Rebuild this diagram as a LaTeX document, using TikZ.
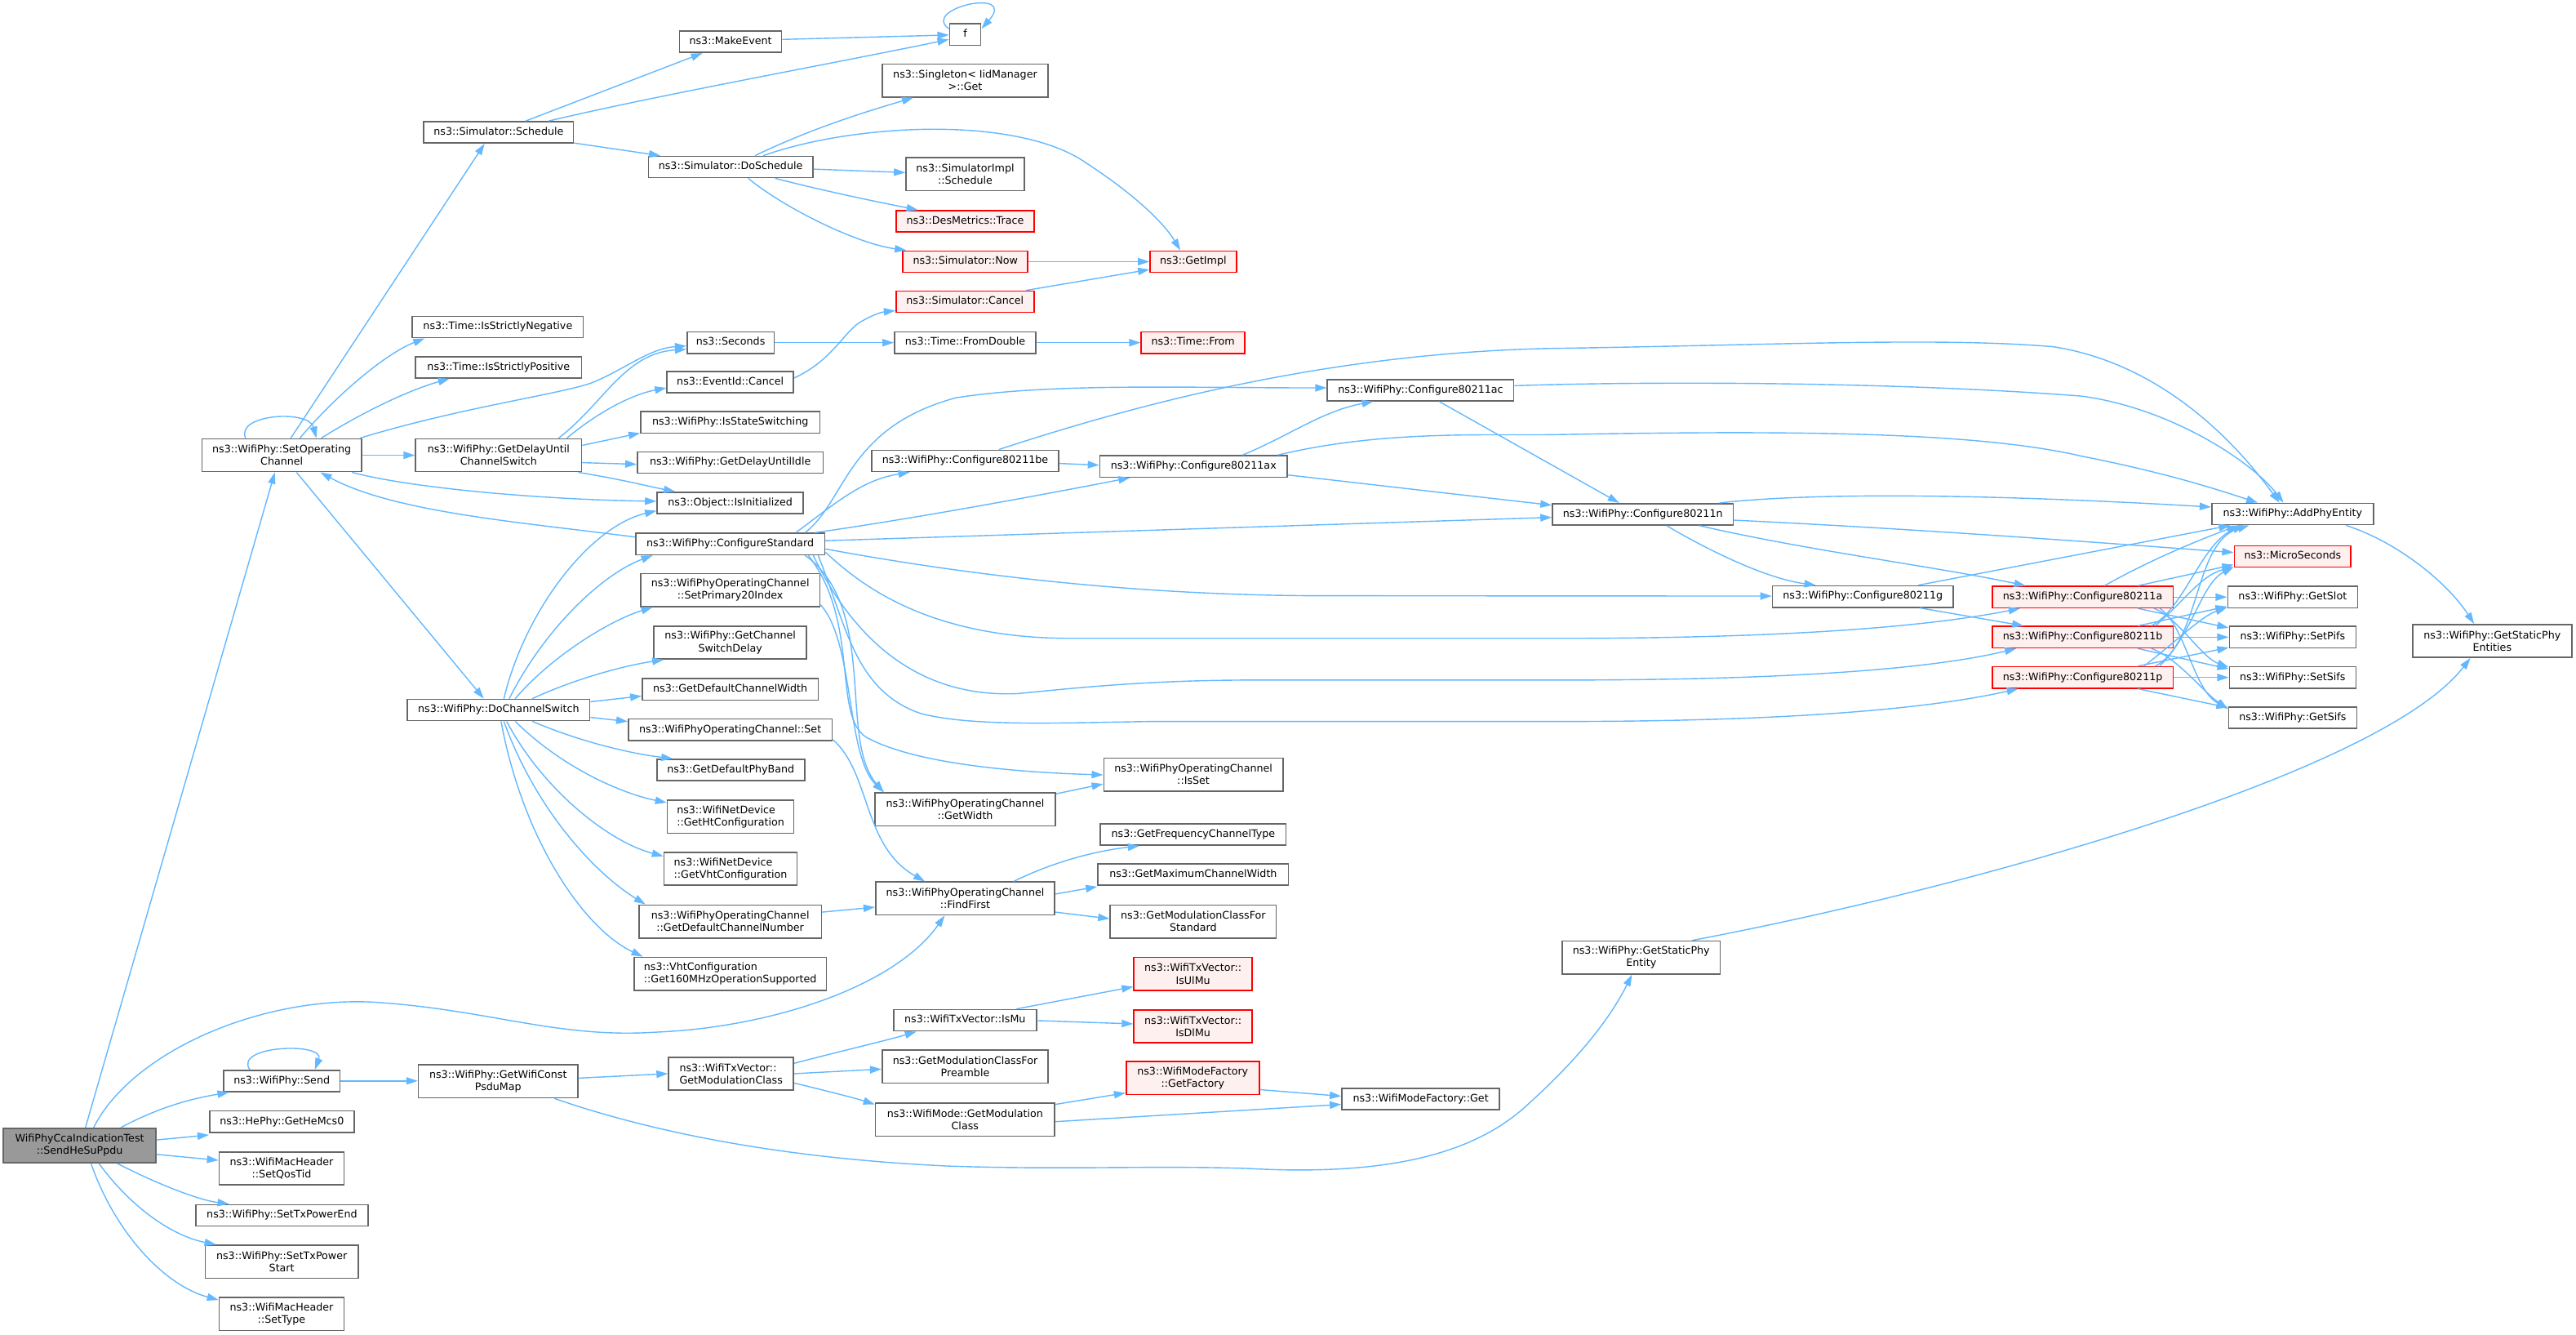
\documentclass[tikz,border=0pt]{standalone}
\usepackage{fontspec}
\setmainfont{DejaVu Sans}
\usetikzlibrary{arrows.meta}
\definecolor{edgeblue}{HTML}{63B8FF}
\definecolor{nodegray}{HTML}{666666}
\definecolor{rootfill}{HTML}{999999}
\definecolor{redfill}{HTML}{FFF0F0}
\definecolor{redline}{HTML}{FF0000}
\begin{document}
\begin{tikzpicture}[x=1pt,y=-1pt,
  box/.style={draw=nodegray, fill=white, line width=0.8pt, inner sep=0pt, align=center,
    font=\fontsize{6.3}{7.5}\selectfont},
  one/.style={text height=4.7pt, text depth=1.4pt},
  lft/.style={align=left},
  redbox/.style={draw=redline, fill=redfill},
  rootbox/.style={fill=rootfill},
  call/.style={draw=edgeblue, line width=0.7pt, -{Triangle[length=7pt,width=4.5pt]}}]
\useasboundingbox (0,0) rectangle (1568,812.3);
% ---------- nodes ----------
\node[box,rootbox,minimum width=93pt,minimum height=21pt] (root) at (48.5,697) {WifiPhyCcaIndicationTest\\::SendHeSuPpdu};
\node[box,minimum width=97pt,minimum height=20pt] (soc) at (171.5,277) {ns3::WifiPhy::SetOperating\\Channel};
\node[box,one,minimum width=71pt,minimum height=13pt] (send) at (171.5,657.7) {ns3::WifiPhy::Send};
\node[box,one,minimum width=88pt,minimum height=13pt] (hemcs) at (171.6,682.5) {ns3::HePhy::GetHeMcs0};
\node[box,minimum width=76pt,minimum height=20pt] (qos) at (171.4,711) {ns3::WifiMacHeader\\::SetQosTid};
\node[box,one,minimum width=105pt,minimum height=13pt] (txend) at (171.6,739.5) {ns3::WifiPhy::SetTxPowerEnd};
\node[box,minimum width=93pt,minimum height=20pt] (txstart) at (171.5,767.7) {ns3::WifiPhy::SetTxPower\\Start};
\node[box,minimum width=76pt,minimum height=20pt] (settype) at (171.4,799.5) {ns3::WifiMacHeader\\::SetType};

\node[box,one,minimum width=91pt,minimum height=13pt] (sched) at (303.5,80.5) {ns3::Simulator::Schedule};
\node[box,one,minimum width=104pt,minimum height=13pt] (neg) at (303,199) {ns3::Time::IsStrictlyNegative};
\node[box,one,minimum width=101pt,minimum height=13pt] (pos) at (303.5,223.5) {ns3::Time::IsStrictlyPositive};
\node[box,minimum width=101pt,minimum height=20pt] (gducs) at (303.5,277) {ns3::WifiPhy::GetDelayUntil\\ChannelSwitch};
\node[box,one,minimum width=111pt,minimum height=13pt] (dcs) at (303.5,432) {ns3::WifiPhy::DoChannelSwitch};
\node[box,minimum width=97pt,minimum height=20pt] (psdu) at (303.2,658) {ns3::WifiPhy::GetWifiConst\\PsduMap};

\node[box,one,minimum width=62pt,minimum height=13pt] (makeev) at (444.7,25.4) {ns3::MakeEvent};
\node[box,one,minimum width=100pt,minimum height=13pt] (dosched) at (444.7,101.6) {ns3::Simulator::DoSchedule};
\node[box,one,minimum width=53pt,minimum height=13pt] (seconds) at (444.7,208.5) {ns3::Seconds};
\node[box,one,minimum width=77pt,minimum height=13pt] (evcancel) at (444.5,232.5) {ns3::EventId::Cancel};
\node[box,one,minimum width=109pt,minimum height=13pt] (stsw) at (444.5,257) {ns3::WifiPhy::IsStateSwitching};
\node[box,one,minimum width=113pt,minimum height=13pt] (idle) at (444.5,281.5) {ns3::WifiPhy::GetDelayUntilIdle};
\node[box,one,minimum width=89pt,minimum height=13pt] (isinit) at (444.5,306) {ns3::Object::IsInitialized};
\node[box,one,minimum width=115pt,minimum height=13pt] (cstd) at (444.5,331) {ns3::WifiPhy::ConfigureStandard};
\node[box,minimum width=109pt,minimum height=20pt] (prim) at (444.5,359) {ns3::WifiPhyOperatingChannel\\::SetPrimary20Index};
\node[box,minimum width=93pt,minimum height=20pt] (csdelay) at (444.5,391) {ns3::WifiPhy::GetChannel\\SwitchDelay};
\node[box,one,minimum width=107pt,minimum height=13pt] (defwidth) at (444.5,419.5) {ns3::GetDefaultChannelWidth};
\node[box,one,minimum width=124pt,minimum height=13pt] (ocset) at (444.5,444) {ns3::WifiPhyOperatingChannel::Set};
\node[box,one,minimum width=90pt,minimum height=13pt] (defband) at (444.8,468.5) {ns3::GetDefaultPhyBand};
\node[box,lft,minimum width=77pt,minimum height=20pt] (htconf) at (444.7,497) {ns3::WifiNetDevice\\::GetHtConfiguration};
\node[box,lft,minimum width=81pt,minimum height=20pt] (vhtconf) at (444.7,528.7) {ns3::WifiNetDevice\\::GetVhtConfiguration};
\node[box,minimum width=111pt,minimum height=20pt] (defnum) at (444.5,560.7) {ns3::WifiPhyOperatingChannel\\::GetDefaultChannelNumber};
\node[box,lft,minimum width=117pt,minimum height=20pt] (mhz) at (444.5,592.5) {ns3::VhtConfiguration\\::Get160MHzOperationSupported};
\node[box,lft,minimum width=76pt,minimum height=20pt] (gmc) at (445,653.3) {ns3::WifiTxVector::\\GetModulationClass};

\node[box,one,minimum width=19pt,minimum height=13pt] (f) at (587.5,21) {f};
\node[box,minimum width=101pt,minimum height=20pt] (singleton) at (587.5,49) {ns3::Singleton< IidManager\\>::Get};
\node[box,minimum width=72pt,minimum height=20pt] (simimpl) at (587.5,106) {ns3::SimulatorImpl\\::Schedule};
\node[box,one,redbox,minimum width=84pt,minimum height=13pt] (trace) at (587.5,134.7) {ns3::DesMetrics::Trace};
\node[box,one,redbox,minimum width=76pt,minimum height=13pt] (now) at (587.6,159.2) {ns3::Simulator::Now};
\node[box,one,redbox,minimum width=84pt,minimum height=13pt] (simcancel) at (587.4,183.6) {ns3::Simulator::Cancel};
\node[box,one,minimum width=86pt,minimum height=13pt] (fromdbl) at (587.5,208.5) {ns3::Time::FromDouble};
\node[box,one,minimum width=114pt,minimum height=13pt] (be) at (587.5,280.4) {ns3::WifiPhy::Configure80211be};
\node[box,minimum width=110pt,minimum height=20pt] (getwidth) at (587.5,492.5) {ns3::WifiPhyOperatingChannel\\::GetWidth};
\node[box,minimum width=109pt,minimum height=20pt] (findfirst) at (587.5,546.7) {ns3::WifiPhyOperatingChannel\\::FindFirst};
\node[box,one,minimum width=87pt,minimum height=13pt] (ismu) at (587.4,620.8) {ns3::WifiTxVector::IsMu};
\node[box,minimum width=101pt,minimum height=20pt] (preamble) at (587.5,649) {ns3::GetModulationClassFor\\Preamble};
\node[box,minimum width=109pt,minimum height=20pt] (wmgmc) at (587.4,681.3) {ns3::WifiMode::GetModulation\\Class};

\node[box,one,redbox,minimum width=52.5pt,minimum height=13pt] (getimpl) at (726.3,159.2) {ns3::GetImpl};
\node[box,one,redbox,minimum width=63pt,minimum height=13pt] (timefrom) at (726.2,208.5) {ns3::Time::From};
\node[box,one,minimum width=114pt,minimum height=13pt] (ax) at (726.5,283.8) {ns3::WifiPhy::Configure80211ax};
\node[box,minimum width=109pt,minimum height=20pt] (isset) at (726.4,471.3) {ns3::WifiPhyOperatingChannel\\::IsSet};
\node[box,one,minimum width=113pt,minimum height=13pt] (freqtype) at (726.3,507.8) {ns3::GetFrequencyChannelType};
\node[box,one,minimum width=116pt,minimum height=13pt] (maxwidth) at (726.3,532.2) {ns3::GetMaximumChannelWidth};
\node[box,minimum width=101pt,minimum height=20pt] (mcstd) at (726.3,560.7) {ns3::GetModulationClassFor\\Standard};
\node[box,redbox,minimum width=72pt,minimum height=20pt] (ulmu) at (726.2,592.6) {ns3::WifiTxVector::\\IsUlMu};
\node[box,redbox,minimum width=72pt,minimum height=20pt] (dlmu) at (726.2,624.5) {ns3::WifiTxVector::\\IsDlMu};
\node[box,redbox,minimum width=81pt,minimum height=20pt] (getfactory) at (726,656) {ns3::WifiModeFactory\\::GetFactory};

\node[box,one,minimum width=113.5pt,minimum height=13pt] (ac) at (864.7,237.4) {ns3::WifiPhy::Configure80211ac};
\node[box,one,minimum width=96pt,minimum height=13pt] (wmfget) at (864.8,668.7) {ns3::WifiModeFactory::Get};

\node[box,one,minimum width=110pt,minimum height=13pt] (n) at (1000,312.9) {ns3::WifiPhy::Configure80211n};
\node[box,minimum width=96pt,minimum height=20pt] (gspe) at (999,582.6) {ns3::WifiPhy::GetStaticPhy\\Entity};
\node[box,one,minimum width=110pt,minimum height=13pt] (g) at (1133.9,363) {ns3::WifiPhy::Configure80211g};

\node[box,one,redbox,minimum width=110pt,minimum height=13pt] (a) at (1267.7,363.3) {ns3::WifiPhy::Configure80211a};
\node[box,one,redbox,minimum width=110pt,minimum height=13pt] (b) at (1267.7,387.7) {ns3::WifiPhy::Configure80211b};
\node[box,one,redbox,minimum width=110pt,minimum height=13pt] (p) at (1267.7,412.2) {ns3::WifiPhy::Configure80211p};

\node[box,one,minimum width=98.4pt,minimum height=13pt] (ape) at (1395.5,312.8) {ns3::WifiPhy::AddPhyEntity};
\node[box,one,redbox,minimum width=71pt,minimum height=13pt] (micro) at (1395.5,338.6) {ns3::MicroSeconds};
\node[box,one,minimum width=79pt,minimum height=13pt] (getslot) at (1395.5,363.3) {ns3::WifiPhy::GetSlot};
\node[box,one,minimum width=77pt,minimum height=13pt] (setpifs) at (1395.5,387.7) {ns3::WifiPhy::SetPifs};
\node[box,one,minimum width=77pt,minimum height=13pt] (setsifs) at (1395.5,412.2) {ns3::WifiPhy::SetSifs};
\node[box,one,minimum width=78pt,minimum height=13pt] (getsifs) at (1395.5,436.8) {ns3::WifiPhy::GetSifs};
\node[box,minimum width=97pt,minimum height=20pt] (gspes) at (1517,390) {ns3::WifiPhy::GetStaticPhy\\Entities};

% ---------- edges ----------
% root
\draw[call] (root.north -| 52,0) -- (soc.south -| 167.3,0);
\draw[call] (root.north -| 57,0) .. controls (80,640) and (160,605) .. (231,610)
  .. controls (300,615) and (340,632) .. (400,628)
  .. controls (470,625) and (545,600) .. (findfirst.south -| 575,0);
\draw[call] (root.north -| 73.5,0) .. controls (100,672) and (120,668) .. (send.south -| 139.4,0);
\draw[call] (root.east |- 0,693.6) -- (hemcs.west |- 0,690.6);
\draw[call] (root.east |- 0,702.4) -- (qos.west |- 0,706);
\draw[call] (root.south -| 71.3,0) .. controls (95,720) and (120,730) .. (txend.north -| 139.4,0);
\draw[call] (root.south -| 60.2,0) .. controls (80,735) and (105,752) .. (txstart.north -| 131.5,0);
\draw[call] (root.south -| 55.4,0) .. controls (70,750) and (100,782) .. (settype.west |- 0,791);
% send
\draw[call] (send.north -| 152,0) .. controls (142,636) and (198,634) .. (send.north -| 191.7,0);
\draw[call] (send.east) -- (psdu.west |- send.east);
\draw[call] (psdu.east |- 0,656) -- (gmc.west |- 0,653.3);
\draw[call] (psdu.south -| 337.5,0) .. controls (400,690) and (480,705) .. (577,709.5)
  .. controls (650,712) and (700,709) .. (760,711)
  .. controls (850,716) and (900,700) .. (930,672)
  .. controls (960,645) and (980,620) .. (gspe.south -| 993.4,0);
\draw[call] (gmc.east |- 0,647) .. controls (510,640) and (540,633) .. (ismu.south -| 557.8,0);
\draw[call] (gmc.east |- 0,653.3) -- (preamble.west |- 0,650.5);
\draw[call] (gmc.east |- 0,659) .. controls (500,663) and (520,668) .. (wmgmc.west |- 0,672);
\draw[call] (ismu.north -| 618.7,0) -- (ulmu.west |- 0,600.4);
\draw[call] (ismu.east |- 0,621) -- (dlmu.west |- 0,623);
\draw[call] (wmgmc.east |- 0,672) -- (getfactory.west |- 0,665);
\draw[call] (wmgmc.east |- 0,682.5) -- (wmfget.west |- 0,672);
\draw[call] (getfactory.east |- 0,663) -- (wmfget.west |- 0,667);
\draw[call] (gspe.north -| 1030,0) .. controls (1200,540) and (1450,470) .. (gspes.south -| 1503.7,0);
\draw[call] (ape.south -| 1428,0) .. controls (1460,330) and (1490,355) .. (gspes.north -| 1506,0);
% SetOperatingChannel
\draw[call] (soc.north -| 149.5,0) .. controls (143,252) and (188,249) .. (soc.north -| 192.6,0);
\draw[call] (soc.north -| 177,0) -- (sched.south -| 295,0);
\draw[call] (soc.north -| 182.5,0) .. controls (205,240) and (235,215) .. (neg.south -| 258.5,0);
\draw[call] (soc.north -| 195.5,0) .. controls (222,250) and (250,237) .. (pos.south -| 273.7,0);
\draw[call] (soc.north -| 219,0) .. controls (280,248) and (340,240) .. (360,233)
  .. controls (380,225) and (395,212) .. (seconds.west |- 0,210.5);
\draw[call] (soc.east |- 0,277) -- (gducs.west |- 0,277);
\draw[call] (soc.south -| 214.3,0) .. controls (250,297) and (330,304) .. (isinit.west |- 0,305);
\draw[call] (soc.south -| 180.5,0) -- (dcs.north -| 294.5,0);
\draw[call] (cstd.west |- 0,326.8) .. controls (320,318) and (240,312) .. (soc.south -| 195,0);
% GetDelayUntilChannelSwitch
\draw[call] (gducs.north -| 340,0) .. controls (368,245) and (380,215) .. (seconds.west |- 0,212.5);
\draw[call] (gducs.north -| 345,0) .. controls (365,250) and (385,240) .. (evcancel.west |- 0,236);
\draw[call] (gducs.east |- 0,271) -- (stsw.west |- 0,263.5);
\draw[call] (gducs.east |- 0,281.5) -- (idle.west |- 0,282.5);
\draw[call] (gducs.south -| 352,0) .. controls (380,292) and (395,296) .. (isinit.north -| 411,0);
% simulator stuff
\draw[call] (evcancel.east |- 0,230) .. controls (505,220) and (512,205) .. (522,197)
  .. controls (530,192) and (536,190) .. (simcancel.west |- 0,189);
\draw[call] (seconds.east) -- (fromdbl.west);
\draw[call] (fromdbl.east) -- (timefrom.west);
\draw[call] (simcancel.north -| 624.4,0) -- (getimpl.west |- 0,164);
\draw[call] (now.east) -- (getimpl.west |- now.east);
\draw[call] (dosched.north -| 464.6,0) .. controls (520,75) and (620,70) .. (661.5,99.4)
  .. controls (690,118) and (708,135) .. (getimpl.north -| 718.5,0);
\draw[call] (dosched.north -| 459.6,0) .. controls (490,80) and (520,70) .. (singleton.south -| 556,0);
\draw[call] (dosched.east |- 0,102.9) -- (simimpl.west |- 0,105);
\draw[call] (dosched.south -| 471.8,0) .. controls (505,117) and (535,123) .. (trace.north -| 558.8,0);
\draw[call] (dosched.south -| 455.5,0) .. controls (475,125) and (520,148) .. (now.north -| 551.6,0);
\draw[call] (sched.north -| 320,0) -- (makeev.south -| 427.6,0);
\draw[call] (sched.north -| 334,0) .. controls (400,58) and (500,40) .. (f.west |- 0,24);
\draw[call] (sched.east |- 0,87) -- (dosched.north -| 402,0);
\draw[call] (makeev.east |- 0,24) -- (f.west |- 0,21.3);
\draw[call] (f.west |- 0,17.5) .. controls (560,5) and (620,-8) .. (f.east |- 0,17.5);
% DoChannelSwitch
\draw[call] (dcs.north -| 306.7,0) .. controls (320,370) and (360,320) .. (isinit.west |- 0,310.8);
\draw[call] (dcs.north -| 310,0) .. controls (330,385) and (365,350) .. (cstd.south -| 397.3,0);
\draw[call] (dcs.north -| 313.6,0) .. controls (335,400) and (370,378) .. (prim.south -| 397.3,0);
\draw[call] (dcs.north -| 324,0) .. controls (350,413) and (380,405) .. (csdelay.south -| 404,0);
\draw[call] (dcs.east |- 0,427) -- (defwidth.west |- 0,423.5);
\draw[call] (dcs.east |- 0,436.5) -- (ocset.west |- 0,439);
\draw[call] (dcs.south -| 324,0) .. controls (350,450) and (380,458) .. (defband.north -| 409.5,0);
\draw[call] (dcs.south -| 313.6,0) .. controls (340,465) and (375,482) .. (htconf.west |- 0,488.4);
\draw[call] (dcs.south -| 308.4,0) .. controls (330,480) and (370,512) .. (vhtconf.west |- 0,521);
\draw[call] (dcs.south -| 306.7,0) .. controls (325,490) and (360,530) .. (defnum.north -| 392.9,0);
\draw[call] (dcs.south -| 305,0) .. controls (318,510) and (355,565) .. (mhz.north -| 391.3,0);
% ConfigureStandard
\draw[call] (cstd.north -| 484.4,0) .. controls (510,305) and (525,292) .. (be.south -| 553.8,0);
\draw[call] (cstd.north -| 490,0) .. controls (515,305) and (515,260) .. (582,242)
  .. controls (640,233) and (720,236) .. (ac.west |- 0,236);
\draw[call] (cstd.north -| 496,0) .. controls (560,315) and (640,300) .. (ax.south -| 687.8,0);
\draw[call] (cstd.east |- 0,329) -- (n.west |- 0,314.8);
\draw[call] (cstd.east |- 0,334) .. controls (600,352) and (700,362) .. (800,362.5) -- (g.west |- 0,362.7);
\draw[call] (cstd.east |- 0,336) .. controls (520,352) and (560,388) .. (650,388.4) -- (950,388.4)
  .. controls (1100,388.4) and (1180,380) .. (a.south -| 1229.6,0);
\draw[call] (cstd.south -| 495,0) .. controls (520,390) and (560,425) .. (620,422)
  .. controls (660,418) and (700,414) .. (760,413.8) -- (950,413.8)
  .. controls (1100,413.8) and (1180,406) .. (b.south -| 1227.3,0);
\draw[call] (cstd.south -| 498,0) .. controls (515,380) and (520,420) .. (560,434)
  .. controls (590,442) and (640,440) .. (700,439) -- (950,439)
  .. controls (1100,439) and (1180,430) .. (p.south -| 1228.5,0);
\draw[call] (cstd.south -| 490,0) .. controls (535,370) and (510,450) .. (getwidth.north -| 538,0);
\draw[call] (prim.east |- 0,368) .. controls (520,390) and (515,460) .. (getwidth.north -| 538,0);
\draw[call] (cstd.south -| 492,0) .. controls (525,380) and (505,440) .. (530,450)
  .. controls (560,465) and (620,470) .. (isset.west |- 0,471.5);
\draw[call] (getwidth.east |- 0,483) -- (isset.west |- 0,477);
\draw[call] (ocset.east |- 0,450) .. controls (530,470) and (525,515) .. (findfirst.north -| 563,0);
\draw[call] (defnum.east |- 0,555) -- (findfirst.west |- 0,552);
\draw[call] (findfirst.north -| 617,0) .. controls (640,525) and (665,518) .. (freqtype.south -| 693.5,0);
\draw[call] (findfirst.east |- 0,544) -- (maxwidth.west |- 0,539.5);
\draw[call] (findfirst.east |- 0,555) -- (mcstd.west |- 0,559);
% 80211 be/ax/ac/n/g
\draw[call] (be.east |- 0,282) -- (ax.west |- 0,283);
\draw[call] (be.north -| 608,0) .. controls (680,250) and (800,215) .. (944,212)
  .. controls (1080,210) and (1180,205) .. (1250,211)
  .. controls (1320,222) and (1365,275) .. (ape.north -| 1387.5,0);
\draw[call] (ac.east |- 0,234.7) .. controls (1000,232) and (1150,232) .. (1266.8,241)
  .. controls (1320,248) and (1370,280) .. (ape.north -| 1390,0);
\draw[call] (ax.north -| 777.7,0) .. controls (840,262) and (900,265) .. (944,264.5)
  .. controls (1080,262) and (1200,262) .. (1266.8,277.5)
  .. controls (1320,288) and (1350,298) .. (ape.north -| 1374.3,0);
\draw[call] (ax.north -| 756.3,0) .. controls (785,265) and (805,250) .. (ac.south -| 836,0);
\draw[call] (ax.east |- 0,289) -- (n.west |- 0,307.4);
\draw[call] (ac.south -| 876,0) -- (n.north -| 985.6,0);
\draw[call] (n.north -| 1046.6,0) .. controls (1100,300) and (1200,300) .. (ape.west |- 0,308.5);
\draw[call] (n.east |- 0,316.5) .. controls (1150,321) and (1250,328) .. (micro.west |- 0,336.2);
\draw[call] (n.south -| 1014.4,0) .. controls (1040,335) and (1075,352) .. (g.north -| 1105.3,0);
\draw[call] (n.south -| 1034.3,0) .. controls (1100,335) and (1180,345) .. (a.north -| 1233,0);
\draw[call] (g.north -| 1167.5,0) -- (ape.south -| 1357.6,0);
\draw[call] (g.south -| 1168.5,0) -- (b.north -| 1231.8,0);
% a/b/p
\draw[call] (a.north -| 1281,0) .. controls (1310,340) and (1340,328) .. (ape.south -| 1362.3,0);
\draw[call] (a.north -| 1301.3,0) -- (micro.west |- 0,343.6);
\draw[call] (a.east) -- (getslot.west |- a.east);
\draw[call] (a.south -| 1301.3,0) -- (setpifs.west |- 0,382);
\draw[call] (a.south -| 1311,0) .. controls (1325,375) and (1340,400) .. (setsifs.west |- 0,406);
\draw[call] (a.south -| 1314.6,0) .. controls (1330,380) and (1335,420) .. (getsifs.west |- 0,431);
\draw[call] (b.north -| 1309.5,0) .. controls (1330,370) and (1340,330) .. (ape.south -| 1366,0);
\draw[call] (b.north -| 1312,0) .. controls (1330,365) and (1340,350) .. (micro.west |- 0,345);
\draw[call] (b.north -| 1301.3,0) -- (getslot.west |- 0,369);
\draw[call] (b.east) -- (setpifs.west |- b.east);
\draw[call] (b.south -| 1301.3,0) -- (setsifs.west |- 0,407);
\draw[call] (b.south -| 1309.5,0) .. controls (1325,400) and (1340,420) .. (getsifs.west |- 0,431.5);
\draw[call] (p.north -| 1312,0) .. controls (1340,390) and (1335,330) .. (ape.south -| 1369,0);
\draw[call] (p.north -| 1314.6,0) .. controls (1335,385) and (1340,355) .. (micro.west |- 0,345);
\draw[call] (p.north -| 1305,0) .. controls (1325,390) and (1340,375) .. (getslot.west |- 0,369.6);
\draw[call] (p.north -| 1301.3,0) -- (setpifs.west |- 0,394);
\draw[call] (p.east) -- (setsifs.west |- p.east);
\draw[call] (p.south -| 1301.3,0) -- (getsifs.west |- 0,430.5);
\end{tikzpicture}
\end{document}
